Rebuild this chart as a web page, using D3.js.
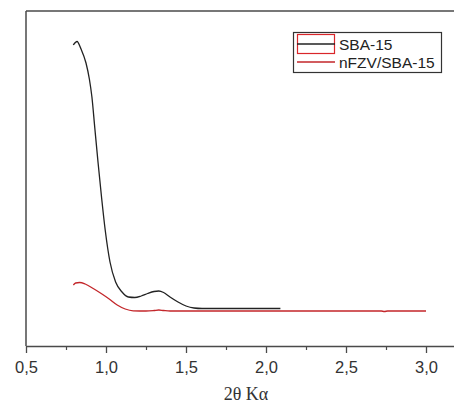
<!DOCTYPE html>
<html>
<head>
<meta charset="utf-8">
<script src="https://cdn.jsdelivr.net/npm/d3@7"></script>
<style>
  html, body { margin: 0; padding: 0; background: #fff; }
  svg { display: block; }
</style>
</head>
<body>
<svg id="chart" width="454" height="405"></svg>
<script>
// Low-angle XRD patterns (2θ in degrees, intensity in arbitrary units)
const twoThetaSBA = [0.796, 0.819, 0.844, 0.875, 0.896, 0.912, 0.930, 0.950, 0.972, 0.995, 1.025, 1.06, 1.10, 1.14, 1.18, 1.22, 1.26, 1.30, 1.33, 1.36, 1.40, 1.45, 1.50, 1.55, 1.60, 1.80, 2.00, 2.09];
const intensitySBA = [3010, 3045, 2970, 2830, 2670, 2490, 2180, 1840, 1490, 1160, 840, 640, 540, 490, 485, 500, 525, 545, 550, 535, 490, 440, 400, 380, 375, 375, 375, 375];

const twoThetaNFZV = [0.796, 0.81, 0.835, 0.87, 0.92, 0.97, 1.02, 1.07, 1.12, 1.17, 1.25, 1.30, 1.33, 1.36, 1.40, 1.60, 2.00, 2.50, 2.72, 2.74, 2.76, 3.00];
const intensityNFZV = [610, 630, 635, 620, 575, 525, 470, 410, 370, 352, 350, 355, 360, 355, 350, 350, 350, 350, 350, 345, 350, 350];

const majorTicks = [0.5, 1.0, 1.5, 2.0, 2.5, 3.0];
const minorTicks = [0.75, 1.25, 1.75, 2.25, 2.75];
const seriesNames = ["SBA-15", "nFZV/SBA-15"];
const xTitle = "2θ Kα";

(function draw() {
  const svg = d3.select("#chart");
  const plotLeft = 26, plotTop = 11, plotRight = 454, plotBottom = 346;

  const x = d3.scaleLinear().domain([0.5, 3.175]).range([plotLeft, plotRight]);
  const y = d3.scaleLinear().domain([0, 3350]).range([plotBottom, plotTop]);

  const axisColor = "#4a4a4a";

  // Frame: left and top borders
  svg.append("line").attr("x1", plotLeft).attr("x2", plotLeft).attr("y1", plotTop).attr("y2", plotBottom)
    .attr("stroke", axisColor).attr("stroke-width", 1.5);
  svg.append("line").attr("x1", plotLeft).attr("x2", plotRight).attr("y1", plotTop).attr("y2", plotTop)
    .attr("stroke", axisColor).attr("stroke-width", 1.5);

  // Bottom axis with major labels and minor ticks
  const fmt = d => d3.format(".1f")(d).replace(".", ",");
  const gx = svg.append("g").attr("transform", `translate(0,${plotBottom})`)
    .call(d3.axisBottom(x).tickValues(majorTicks).tickFormat(fmt).tickSize(7).tickSizeOuter(0));
  gx.select(".domain").attr("stroke", axisColor).attr("stroke-width", 1.5);
  gx.selectAll(".tick line").attr("stroke", axisColor).attr("stroke-width", 1.3);
  gx.selectAll(".tick text")
    .attr("font-family", "Liberation Sans, Arial, sans-serif")
    .attr("font-size", 16.5).attr("fill", "#333").attr("dy", null).attr("y", 27);

  const gxm = svg.append("g").attr("transform", `translate(0,${plotBottom})`)
    .call(d3.axisBottom(x).tickValues(minorTicks).tickFormat("").tickSize(4).tickSizeOuter(0));
  gxm.select(".domain").remove();
  gxm.selectAll(".tick line").attr("stroke", axisColor).attr("stroke-width", 1.2);

  svg.append("text").attr("x", 246).attr("y", 400)
    .attr("text-anchor", "middle")
    .attr("font-family", "Liberation Serif, Times New Roman, serif")
    .attr("font-size", 18).attr("fill", "#333").text(xTitle);

  // Curves
  const line = d3.line().x(d => x(d[0])).y(d => y(d[1])).curve(d3.curveMonotoneX);
  const sba = twoThetaSBA.map((t, i) => [t, intensitySBA[i]]);
  const nfzv = twoThetaNFZV.map((t, i) => [t, intensityNFZV[i]]);

  svg.append("path").datum(sba).attr("d", line)
    .attr("fill", "none").attr("stroke", "#222").attr("stroke-width", 1.3);
  svg.append("path").datum(nfzv).attr("d", line)
    .attr("fill", "none").attr("stroke", "#c3262a").attr("stroke-width", 1.3);

  // Legend
  const lg = svg.append("g");
  lg.append("rect").attr("x", 293.5).attr("y", 32.5).attr("width", 148).attr("height", 40)
    .attr("fill", "#fff").attr("stroke", "#333").attr("stroke-width", 1.2);
  lg.append("rect").attr("x", 297.5).attr("y", 34.5).attr("width", 37).attr("height", 19)
    .attr("fill", "none").attr("stroke", "#d9262a").attr("stroke-width", 1.2);
  lg.append("line").attr("x1", 297).attr("x2", 335).attr("y1", 44).attr("y2", 44)
    .attr("stroke", "#222").attr("stroke-width", 1.3);
  lg.append("line").attr("x1", 297).attr("x2", 335).attr("y1", 62).attr("y2", 62)
    .attr("stroke", "#c3262a").attr("stroke-width", 1.3);
  lg.selectAll("text.leg").data(seriesNames).enter().append("text")
    .attr("class", "leg")
    .attr("x", 339).attr("y", (d, i) => 49.5 + i * 18)
    .attr("font-family", "Liberation Sans, Arial, sans-serif")
    .attr("font-size", 15.5).attr("fill", "#222").text(d => d);
})();
</script>
</body>
</html>
